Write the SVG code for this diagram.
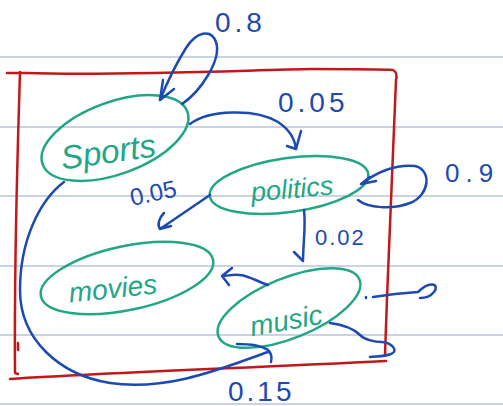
<svg xmlns="http://www.w3.org/2000/svg" width="503" height="406" viewBox="0 0 503 406">
<style>
.rule{stroke:#b7c5db;stroke-width:1.5}
.node{fill:none;stroke:#22a786;stroke-width:2.5}
.nt{fill:#22a786;font-family:"Liberation Sans",sans-serif;font-style:italic}
.c{fill:none;stroke:#1d4ab2;stroke-width:2.5;stroke-linecap:round;stroke-linejoin:round}
.lbl{fill:#1d4ab2;font-family:"Liberation Sans",sans-serif}
.box{fill:none;stroke:#c0191b;stroke-width:2.5;stroke-linecap:round;stroke-linejoin:round}
</style>
<rect width="503" height="406" fill="#ffffff"/>
<g id="ruled-lines">
<line class="rule" x1="0" y1="57" x2="503" y2="57"/>
<line class="rule" x1="0" y1="127" x2="503" y2="127"/>
<line class="rule" x1="0" y1="196" x2="503" y2="196"/>
<line class="rule" x1="0" y1="266" x2="503" y2="266"/>
<line class="rule" x1="0" y1="335" x2="503" y2="335"/>
<line class="rule" x1="0" y1="404" x2="503" y2="404"/>
</g>
<g id="frame">
<path class="box" d="M7,73 L26,73 C120,76 250,70 312,69 C350,69 380,69 393,70 C397,72 397,76 396,80 C393,160 388,260 385,355"/>
<path class="box" d="M20,72 C18,140 14,250 15,373 L18,374 M18,343 L18,350"/>
<path class="box" d="M10,379 C120,372 250,368 386,361"/>
</g>
<g id="sports">
<ellipse class="node" cx="115" cy="138" rx="77" ry="36" transform="rotate(-20 115 138)"/>
<text class="nt" x="108" y="163" font-size="33" text-anchor="middle" transform="rotate(-8 108 150)">Sports</text>
</g>
<g id="politics">
<ellipse class="node" cx="289" cy="185" rx="80" ry="27" transform="rotate(-8 289 185)"/>
<text class="nt" x="292" y="198" font-size="27" text-anchor="middle" transform="rotate(-5 292 188)">politics</text>
</g>
<g id="movies">
<ellipse class="node" cx="127" cy="278" rx="88" ry="32" transform="rotate(-12 127 278)"/>
<text class="nt" x="113" y="298" font-size="28" text-anchor="middle" transform="rotate(-6 113 290)">movies</text>
</g>
<g id="music">
<ellipse class="node" cx="289" cy="308" rx="76" ry="30" transform="rotate(-22 289 308)"/>
<text class="nt" x="286" y="330" font-size="28" text-anchor="middle" transform="rotate(-10 286 320)">music</text>
</g>
<g id="connectors">
<path class="c" d="M182,104 C200,92 222,60 216,42 C211,28 196,32 186,48 C176,64 166,85 160,100"/>
<path class="c" d="M163,80 L160,100 L174,89"/>
<path class="c" d="M190,124 C208,110 255,108 278,122 C290,130 295,140 296,149"/>
<path class="c" d="M287,146 L296,149 L301,131"/>
<path class="c" d="M362,184 C376,172 396,164 415,166 C432,170 430,195 410,203 C392,210 368,208 358,200"/>
<path class="c" d="M370,177 L361,184 L376,181"/>
<path class="c" d="M210,195 L160,229 L171,226 M160,229 C157,225 159,218 164,213"/>
<path class="c" d="M304,210 C306,225 303,245 303,261 L294,252"/>
<path class="c" d="M268,285 C258,282 250,276 240,275 C232,274 228,276 222,276 M232,268 L222,276 L229,285"/>
<path class="c" d="M366,297 L366,298 M373,297 L395,294 L418,292 C430,280 440,284 434,292 C430,297 425,298 420,298"/>
<path class="c" d="M330,323 C345,325 355,330 360,335 C365,340 375,342 382,342 C392,343 399,351 391,354 C383,357 376,356 370,357"/>
<path class="c" d="M64,182 C40,200 20,240 20,290 C20,340 60,375 110,383 C170,392 230,365 268,352"/>
<path class="c" d="M237,344 C250,344 262,346 268,350 C272,354 272,358 271,362"/>
</g>
<g id="labels">
<text class="lbl" x="215" y="32" font-size="28" letter-spacing="4">0.8</text>
<text class="lbl" x="278" y="112" font-size="28" letter-spacing="4">0.05</text>
<text class="lbl" x="445" y="182" font-size="26" letter-spacing="6">0.9</text>
<text class="lbl" x="132" y="206" font-size="24" transform="rotate(-12 132 206)">0.05</text>
<text class="lbl" x="315" y="245" font-size="22" letter-spacing="2">0.02</text>
<text class="lbl" x="228" y="401" font-size="28" letter-spacing="3">0.15</text>
</g>
</svg>
